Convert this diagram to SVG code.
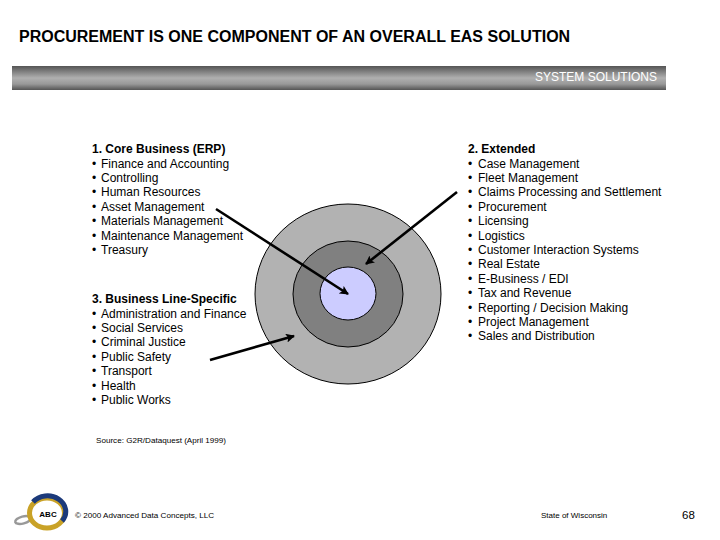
<svg xmlns="http://www.w3.org/2000/svg" width="720" height="540" viewBox="0 0 720 540">
<style>
text{font-family:"Liberation Sans",Arial,sans-serif;fill:#000}
.b{font-size:12px}
.h{font-weight:bold}
.r{stroke:#000;stroke-width:1}
.a{stroke:#000;stroke-width:2.6;fill:none;marker-end:url(#ah)}
</style>
<defs>
<linearGradient id="bar" x1="0" y1="0" x2="0" y2="1">
<stop offset="0" stop-color="#555"/><stop offset=".5" stop-color="#b0b0b0"/><stop offset=".75" stop-color="#999"/><stop offset="1" stop-color="#555"/>
</linearGradient>
<marker id="ah" markerUnits="userSpaceOnUse" markerWidth="10" markerHeight="10" refX="8" refY="4.5" orient="auto">
<path d="M0 0L9 4.5L0 9L2 4.5Z" fill="#000"/>
</marker>
</defs>
<rect width="720" height="540" fill="#fff"/>
<text x="19" y="41.5" font-size="16" font-weight="bold" id="title">PROCUREMENT IS ONE COMPONENT OF AN OVERALL EAS SOLUTION</text>
<g id="banner">
<rect x="12" y="66" width="654" height="24" fill="url(#bar)"/>
<text x="657" y="81" font-size="12" text-anchor="end" style="fill:#fff">SYSTEM SOLUTIONS</text>
</g>
<g id="core-business" class="b">
<text x="92" y="153" class="h">1. Core Business (ERP)</text>
<text x="92" y="168">•<tspan x="101">Finance and Accounting</tspan></text>
<text x="92" y="182">•<tspan x="101">Controlling</tspan></text>
<text x="92" y="196">•<tspan x="101">Human Resources</tspan></text>
<text x="92" y="211">•<tspan x="101">Asset Management</tspan></text>
<text x="92" y="225">•<tspan x="101">Materials Management</tspan></text>
<text x="92" y="240">•<tspan x="101">Maintenance Management</tspan></text>
<text x="92" y="254">•<tspan x="101">Treasury</tspan></text>
</g>
<g id="line-specific" class="b">
<text x="92" y="303" class="h">3. Business Line-Specific</text>
<text x="92" y="318">•<tspan x="101">Administration and Finance</tspan></text>
<text x="92" y="332">•<tspan x="101">Social Services</tspan></text>
<text x="92" y="346">•<tspan x="101">Criminal Justice</tspan></text>
<text x="92" y="361">•<tspan x="101">Public Safety</tspan></text>
<text x="92" y="375">•<tspan x="101">Transport</tspan></text>
<text x="92" y="390">•<tspan x="101">Health</tspan></text>
<text x="92" y="404">•<tspan x="101">Public Works</tspan></text>
</g>
<g id="extended" class="b">
<text x="468" y="153" class="h">2. Extended</text>
<text x="468" y="168">•<tspan x="478">Case Management</tspan></text>
<text x="468" y="182">•<tspan x="478">Fleet Management</tspan></text>
<text x="468" y="196">•<tspan x="478">Claims Processing and Settlement</tspan></text>
<text x="468" y="211">•<tspan x="478">Procurement</tspan></text>
<text x="468" y="225">•<tspan x="478">Licensing</tspan></text>
<text x="468" y="240">•<tspan x="478">Logistics</tspan></text>
<text x="468" y="254">•<tspan x="478">Customer Interaction Systems</tspan></text>
<text x="468" y="268">•<tspan x="478">Real Estate</tspan></text>
<text x="468" y="283">•<tspan x="478">E-Business / EDI</tspan></text>
<text x="468" y="297">•<tspan x="478">Tax and Revenue</tspan></text>
<text x="468" y="312">•<tspan x="478">Reporting / Decision Making</tspan></text>
<text x="468" y="326">•<tspan x="478">Project Management</tspan></text>
<text x="468" y="340">•<tspan x="478">Sales and Distribution</tspan></text>
</g>
<g id="rings">
<ellipse class="r" cx="348" cy="294" rx="93" ry="90" fill="#b2b2b2"/>
<ellipse class="r" cx="348" cy="294" rx="55" ry="53" fill="#808080"/>
<ellipse class="r" cx="348" cy="293.5" rx="28" ry="26.5" fill="#ccccff"/>
</g>
<g id="connectors">
<path class="a" d="M216 209L348 294"/>
<path class="a" d="M457 192L366 264"/>
<path class="a" d="M210 360L294 336"/>
</g>
<text x="96" y="443" font-size="8.1" id="source">Source: G2R/Dataquest (April 1999)</text>
<g id="logo">
<ellipse cx="23" cy="520" rx="8" ry="3.5" fill="none" stroke="#999" stroke-width="2.5" transform="rotate(-15 23 520)"/>
<ellipse cx="47" cy="513" rx="17.5" ry="15" fill="none" stroke="#c9a227" stroke-width="5"/>
<path d="M33 502A17.5 15 0 0 1 62 521" fill="none" stroke="#1c3a7a" stroke-width="5"/>
<ellipse cx="48" cy="514" rx="12" ry="9" fill="#fff"/>
<text x="48" y="517" font-size="8" font-weight="bold" text-anchor="middle">ABC</text>
</g>
<text x="75" y="518" font-size="8.1" id="copyright">© 2000 Advanced Data Concepts, LLC</text>
<text x="541" y="518" font-size="8" id="org">State of Wisconsin</text>
<text x="682" y="519" font-size="11.5" id="page">68</text>
</svg>
